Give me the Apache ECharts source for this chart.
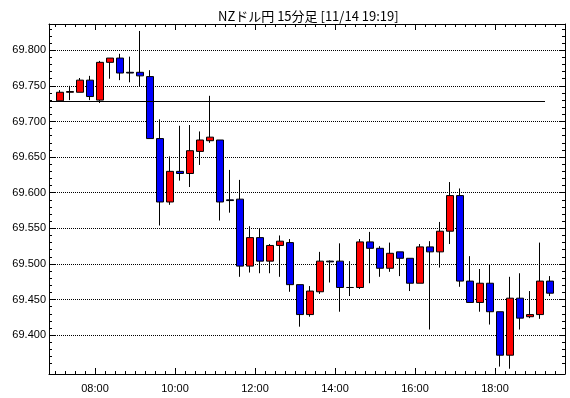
<!DOCTYPE html>
<html style="height: 100%">

<head>
    <meta charset="utf-8">
</head>

<body style="height: 100%; margin: 0; background: #fff">
    <div id="main" style="width: 570px; height: 398px"></div>

    <script type="text/javascript" src="https://cdn.jsdelivr.net/npm/echarts@6/dist/echarts.min.js"></script>

    <script type="text/javascript">
        // 15 minute candles, start time of each bar
        var times = ['07:00', '07:15', '07:30', '07:45', '08:00', '08:15', '08:30', '08:45', '09:00', '09:15',
            '09:30', '09:45', '10:00', '10:15', '10:30', '10:45', '11:00', '11:15', '11:30', '11:45',
            '12:00', '12:15', '12:30', '12:45', '13:00', '13:15', '13:30', '13:45', '14:00', '14:15',
            '14:30', '14:45', '15:00', '15:15', '15:30', '15:45', '16:00', '16:15', '16:30', '16:45',
            '17:00', '17:15', '17:30', '17:45', '18:00', '18:15', '18:30', '18:45', '19:00', '19:15'];
        var opens = [69.729, 69.741, 69.741, 69.758, 69.730, 69.783, 69.789, 69.769, 69.769, 69.763,
            69.676, 69.587, 69.630, 69.627, 69.658, 69.673, 69.674, 69.590, 69.591, 69.497,
            69.537, 69.504, 69.526, 69.530, 69.471, 69.429, 69.461, 69.504, 69.504, 69.467,
            69.467, 69.531, 69.522, 69.494, 69.517, 69.508, 69.473, 69.524, 69.517, 69.546,
            69.596, 69.476, 69.446, 69.473, 69.433, 69.372, 69.452, 69.426, 69.429, 69.476];
        var closes = [69.741, 69.742, 69.758, 69.735, 69.783, 69.789, 69.768, 69.768, 69.764, 69.676,
            69.587, 69.630, 69.627, 69.659, 69.674, 69.678, 69.587, 69.589, 69.497, 69.537,
            69.504, 69.526, 69.532, 69.471, 69.429, 69.462, 69.504, 69.503, 69.467, 69.467,
            69.531, 69.522, 69.494, 69.515, 69.508, 69.473, 69.524, 69.517, 69.546, 69.596,
            69.476, 69.446, 69.473, 69.433, 69.372, 69.452, 69.424, 69.429, 69.476, 69.459];
        var lows = [69.729, 69.730, 69.741, 69.730, 69.726, 69.760, 69.758, 69.755, 69.749, 69.676,
            69.554, 69.583, 69.617, 69.608, 69.639, 69.670, 69.561, 69.572, 69.482, 69.488,
            69.487, 69.487, 69.482, 69.461, 69.412, 69.426, 69.458, 69.474, 69.433, 69.455,
            69.465, 69.473, 69.482, 69.489, 69.483, 69.462, 69.473, 69.408, 69.495, 69.528,
            69.468, 69.446, 69.433, 69.415, 69.356, 69.353, 69.408, 69.424, 69.423, 69.455];
        var highs = [69.744, 69.750, 69.761, 69.764, 69.785, 69.789, 69.795, 69.791, 69.827, 69.772,
            69.703, 69.651, 69.694, 69.695, 69.686, 69.736, 69.674, 69.632, 69.618, 69.553,
            69.550, 69.528, 69.540, 69.535, 69.471, 69.469, 69.517, 69.505, 69.529, 69.504,
            69.535, 69.545, 69.525, 69.530, 69.517, 69.508, 69.528, 69.532, 69.559, 69.615,
            69.606, 69.511, 69.493, 69.499, 69.433, 69.482, 69.487, 69.462, 69.530, 69.483];
        var refLevel = 69.729;
        var yTicks = [69.40, 69.45, 69.50, 69.55, 69.60, 69.65, 69.70, 69.75, 69.80];

        function toMin(s) {
            var p = s.split(':');
            return +p[0] * 60 + +p[1];
        }
        function fmtMin(v) {
            var h = Math.floor(v / 60), m = Math.round(v % 60);
            return (h < 10 ? '0' : '') + h + ':' + (m < 10 ? '0' : '') + m;
        }

        var candles = [];
        for (var i = 0; i < times.length; i++) {
            candles.push([toMin(times[i]) + 7.5, opens[i], closes[i], lows[i], highs[i]]);
        }
        var xMin = 411, xMax = 1185;
        var yMin = 69.3456, yMax = 69.8368;
        var lineEnd = toMin(times[times.length - 1]);

        var font = 'Liberation Sans';
        var xAxisBase = {
            type: 'value', min: xMin, max: xMax,
            minInterval: 120, maxInterval: 120,
            axisLine: { show: true, onZero: false, lineStyle: { color: '#000' } },
            axisTick: { show: true, inside: true, length: 6, lineStyle: { color: '#000' } },
            minorTick: { show: true, splitNumber: 8, length: 3, lineStyle: { color: '#000' } },
            splitLine: { show: false }
        };
        var yAxisBase = {
            type: 'value', min: yMin, max: yMax,
            minInterval: 0.05, maxInterval: 0.05,
            axisLine: { show: true, onZero: false, lineStyle: { color: '#000' } },
            axisTick: { show: true, inside: true, length: 6, customValues: yTicks, lineStyle: { color: '#000' } },
            minorTick: { show: true, splitNumber: 5, length: 3, lineStyle: { color: '#000' } }
        };

        var chart = echarts.init(document.getElementById('main'));
        var option = {
            animation: false,
            backgroundColor: '#fff',
            title: {
                text: 'NZドル円 15分足 [11/14 19:19]',
                left: 213, top: 5,
                textStyle: { fontFamily: 'Noto Sans CJK JP', fontSize: 13, fontWeight: 'normal', color: '#000' }
            },
            grid: { left: 49, right: 5, top: 24, bottom: 24 },
            xAxis: [
                Object.assign({}, xAxisBase, {
                    position: 'bottom',
                    axisLabel: {
                        showMinLabel: false, showMaxLabel: false, margin: 9,
                        fontFamily: font, fontSize: 11, color: '#000',
                        formatter: fmtMin
                    }
                }),
                Object.assign({}, xAxisBase, { position: 'top', axisLabel: { show: false } })
            ],
            yAxis: [
                Object.assign({}, yAxisBase, {
                    position: 'left',
                    axisLabel: {
                        margin: 3, customValues: yTicks,
                        fontFamily: font, fontSize: 11, color: '#000',
                        formatter: function (v) { return v.toFixed(3); }
                    },
                    splitLine: { show: true, lineStyle: { color: '#000', type: [1, 1] } }
                }),
                Object.assign({}, yAxisBase, {
                    position: 'right',
                    axisLabel: { show: false },
                    splitLine: { show: false }
                })
            ],
            series: [
                {
                    type: 'candlestick',
                    xAxisIndex: 0, yAxisIndex: 0,
                    encode: { x: 0, y: [1, 2, 3, 4] },
                    barWidth: 7,
                    itemStyle: {
                        color: '#ff0000', color0: '#0000ff',
                        borderColor: '#000', borderColor0: '#000', borderColorDoji: '#000',
                        borderWidth: 1
                    },
                    data: candles,
                    markLine: {
                        silent: true,
                        symbol: 'none',
                        label: { show: false },
                        lineStyle: { color: '#000', type: 'solid', width: 1 },
                        data: [[{ coord: [xMin, refLevel] }, { coord: [lineEnd, refLevel] }]]
                    }
                }
            ]
        };
        chart.setOption(option);
    </script>
</body>

</html>
